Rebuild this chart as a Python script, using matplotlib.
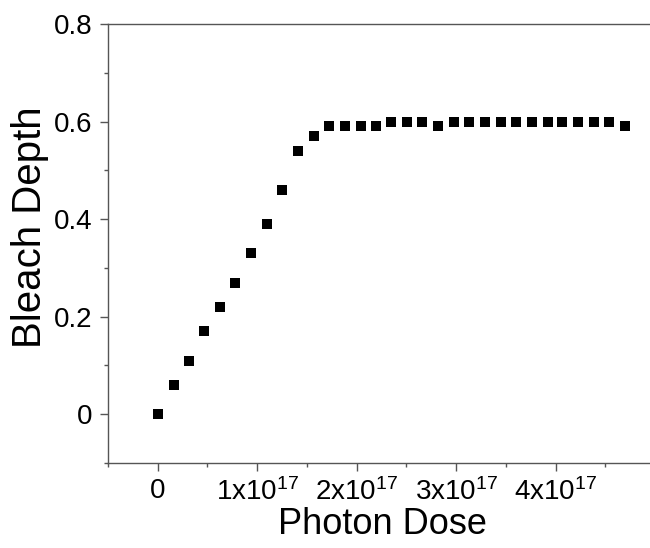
import matplotlib
matplotlib.use('Agg')
import matplotlib.pyplot as plt
from matplotlib.ticker import MultipleLocator, FuncFormatter

plt.rcParams['font.family'] = ['Liberation Sans', 'DejaVu Sans']
plt.rcParams['mathtext.default'] = 'regular'

# данные: доза фотонов (в единицах 1e17) и глубина обесцвечивания
dose_1e17 = [0.00, 0.16, 0.31, 0.47, 0.63, 0.78, 0.94, 1.10, 1.25, 1.41,
             1.57, 1.72, 1.88, 2.04, 2.19, 2.35, 2.51, 2.66, 2.82, 2.98,
             3.13, 3.29, 3.45, 3.60, 3.76, 3.92, 4.07, 4.23, 4.39, 4.54, 4.70]
bleach_depth = [0.00, 0.06, 0.11, 0.17, 0.22, 0.27, 0.33, 0.39, 0.46, 0.54,
                0.57, 0.59, 0.59, 0.59, 0.59, 0.60, 0.60, 0.60, 0.59, 0.60,
                0.60, 0.60, 0.60, 0.60, 0.60, 0.60, 0.60, 0.60, 0.60, 0.60, 0.59]
dose = [d * 1e17 for d in dose_1e17]

fig = plt.figure(figsize=(6.5, 5.48), dpi=100)
ax = fig.add_axes([108 / 650, 1 - 463 / 548, 542 / 650, 439 / 548])

ax.plot(dose, bleach_depth, 's', color='black', markersize=6.5, markeredgewidth=0)

ax.set_xlim(-0.5e17, 4.95e17)
ax.set_ylim(-0.1, 0.8)

ax.xaxis.set_major_locator(MultipleLocator(1e17))
ax.xaxis.set_minor_locator(MultipleLocator(0.5e17))
ax.yaxis.set_major_locator(MultipleLocator(0.2))
ax.yaxis.set_minor_locator(MultipleLocator(0.1))


def fmt_x(v, pos):
    n = int(round(v / 1e17))
    if n == 0:
        return '0'
    return r'$\mathregular{%dx10^{17}}$' % n


def fmt_y(v, pos):
    if abs(v) < 1e-9:
        return '0'
    return '%.1f' % v


ax.xaxis.set_major_formatter(FuncFormatter(fmt_x))
ax.yaxis.set_major_formatter(FuncFormatter(fmt_y))

spine_color = '#555555'
for side in ['left', 'bottom', 'top']:
    ax.spines[side].set_color(spine_color)
    ax.spines[side].set_linewidth(1.0)
ax.spines['right'].set_visible(False)

ax.tick_params(which='major', direction='out', length=6, width=1.0,
               color=spine_color, labelsize=20, pad=5)
ax.tick_params(which='minor', direction='out', length=3, width=1.0,
               color=spine_color)
ax.tick_params(top=False, right=False, which='both')

ax.set_xlabel('Photon Dose', fontsize=26)
ax.set_ylabel('Bleach Depth', fontsize=29)
ax.xaxis.set_label_coords(0.507, -0.1)
ax.yaxis.set_label_coords(-0.109, 0.538)

fig.savefig('out.png', dpi=100)
